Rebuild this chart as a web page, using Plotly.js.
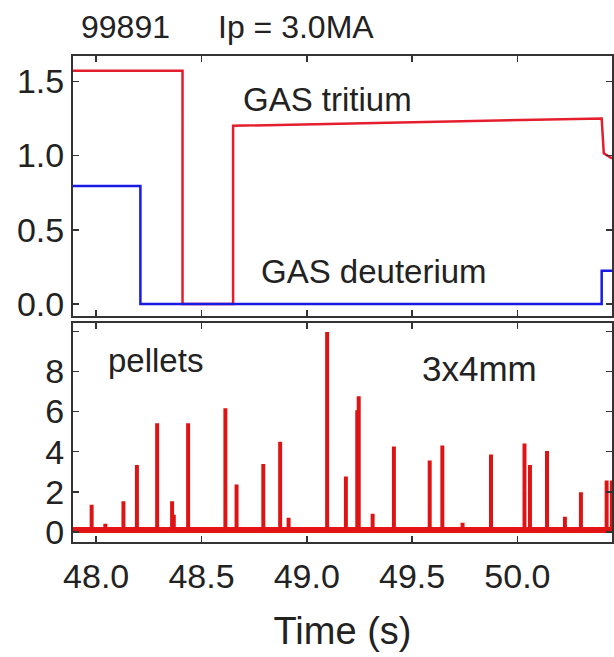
<!DOCTYPE html>
<html>
<head>
<meta charset="utf-8">
<script src="https://cdn.plot.ly/plotly-3.0.1.min.js"></script>
<style>html,body{margin:0;padding:0;background:#fff;}#chart{width:614px;height:657px;}</style>
</head>
<body>
<div id="chart"></div>
<script>
// ---- Data ----
const tritiumTime  = [47.89, 48.41, 48.41, 48.65, 48.65, 50.40, 50.41, 50.449];
const tritiumValue = [1.57, 1.57, 0.0, 0.0, 1.20, 1.25, 1.015, 0.98];

const deuteriumTime  = [47.89, 48.21, 48.21, 50.40, 50.40, 50.449];
const deuteriumValue = [0.795, 0.795, 0.0, 0.0, 0.225, 0.225];

const pelletTimes   = [47.975, 48.04, 48.126, 48.19, 48.286, 48.357, 48.365, 48.433, 48.61, 48.663, 48.79, 48.87, 48.91,
                       49.093, 49.182, 49.236, 49.243, 49.309, 49.41, 49.58, 49.64, 49.736, 49.871, 50.03, 50.056,
                       50.137, 50.222, 50.298, 50.42, 50.445];
const pelletHeights = [1.3, 0.35, 1.47, 3.27, 5.35, 1.47, 0.8, 5.35, 6.1, 2.3, 3.33, 4.43, 0.65,
                       9.9, 2.7, 6.0, 6.7, 0.85, 4.2, 3.5, 4.25, 0.4, 3.8, 4.35, 3.27,
                       3.97, 0.7, 1.92, 2.5, 2.5];
const pelletBaseline = 0.1;
const timeRange = [47.89, 50.449];

const xTicks = [48.0, 48.5, 49.0, 49.5, 50.0];
const xTickText = ['48.0', '48.5', '49.0', '49.5', '50.0'];
const gasTicks = [0, 0.5, 1.0, 1.5];
const gasTickText = ['0.0', '0.5', '1.0', '1.5'];
const pelletTicks = [0, 2, 4, 6, 8, 10];
const pelletTickText = ['0', '2', '4', '6', '8', ''];

// ---- build pellet spike trace from the spike list ----
const spikeW = 0.007;
const px = [timeRange[0]], py = [pelletBaseline];
for (let i = 0; i < pelletTimes.length; i++) {
  const t = pelletTimes[i], h = pelletHeights[i];
  px.push(t, t, t + spikeW, t + spikeW);
  py.push(pelletBaseline, h, h, pelletBaseline);
}
px.push(timeRange[1]); py.push(pelletBaseline);

const FONT = 'Liberation Sans, Arial, sans-serif';
const TXT = '#222';
const AX = '#333';

const traces = [
  {x: tritiumTime, y: tritiumValue, xaxis: 'x2', yaxis: 'y2', mode: 'lines',
   line: {color: 'rgb(228,30,45)', width: 2.5, shape: 'linear'}, hoverinfo: 'skip'},
  {x: deuteriumTime, y: deuteriumValue, xaxis: 'x2', yaxis: 'y2', mode: 'lines',
   line: {color: 'rgb(25,25,230)', width: 2.5}, hoverinfo: 'skip'},
  {x: timeRange, y: [pelletBaseline, pelletBaseline], xaxis: 'x', yaxis: 'y', mode: 'lines',
   line: {color: 'rgb(235,20,20)', width: 6}, hoverinfo: 'skip'},
  {x: px, y: py, xaxis: 'x', yaxis: 'y', mode: 'lines',
   line: {color: 'rgb(222,20,20)', width: 2.5}, hoverinfo: 'skip'}
];

const axCommon = {
  showline: true, linecolor: AX, linewidth: 2, mirror: 'ticks',
  ticks: 'inside', ticklen: 6, tickwidth: 1.5, tickcolor: AX,
  showgrid: false, zeroline: false,
  tickfont: {family: FONT, size: 34, color: TXT}
};

const layout = {
  width: 614, height: 657,
  margin: {l: 73, r: 2, t: 56, b: 115},
  paper_bgcolor: '#fff', plot_bgcolor: '#fff',
  showlegend: false,
  xaxis: Object.assign({}, axCommon, {
    range: timeRange, anchor: 'y', tickvals: xTicks, ticktext: xTickText,
    ticklabelstandoff: 3,
    title: {text: 'Time (s)', font: {family: FONT, size: 38, color: TXT}, standoff: 24}
  }),
  yaxis: Object.assign({}, axCommon, {
    domain: [0, 0.45], range: [-0.5, 10.4], anchor: 'x',
    tickvals: pelletTicks, ticktext: pelletTickText
  }),
  xaxis2: Object.assign({}, axCommon, {
    range: timeRange, anchor: 'y2', matches: 'x', tickvals: xTicks, showticklabels: false
  }),
  yaxis2: Object.assign({}, axCommon, {
    domain: [0.465, 1], range: [-0.08, 1.67], anchor: 'x2',
    tickvals: gasTicks, ticktext: gasTickText
  }),
  annotations: [
    {text: '99891', xref: 'paper', yref: 'paper', x: (125 - 73) / 539, y: 1 + (56 - 27) / 486,
     showarrow: false, xanchor: 'center', yanchor: 'middle', font: {family: FONT, size: 32, color: TXT}},
    {text: 'Ip = 3.0MA', xref: 'paper', yref: 'paper', x: (296 - 73) / 539, y: 1 + (56 - 27) / 486,
     showarrow: false, xanchor: 'center', yanchor: 'middle', font: {family: FONT, size: 32, color: TXT}},
    {text: 'GAS tritium', xref: 'x2', yref: 'y2', x: 49.097, y: 1.376,
     showarrow: false, xanchor: 'center', yanchor: 'middle', font: {family: FONT, size: 33, color: TXT}},
    {text: 'GAS deuterium', xref: 'x2', yref: 'y2', x: 49.32, y: 0.22,
     showarrow: false, xanchor: 'center', yanchor: 'middle', font: {family: FONT, size: 33, color: TXT}},
    {text: 'pellets', xref: 'x', yref: 'y', x: 48.28, y: 8.55,
     showarrow: false, xanchor: 'center', yanchor: 'middle', font: {family: FONT, size: 33, color: TXT}},
    {text: '3x4mm', xref: 'x', yref: 'y', x: 49.82, y: 8.15,
     showarrow: false, xanchor: 'center', yanchor: 'middle', font: {family: FONT, size: 35, color: TXT}}
  ]
};

Plotly.newPlot('chart', traces, layout, {displayModeBar: false, staticPlot: true});
</script>
</body>
</html>
